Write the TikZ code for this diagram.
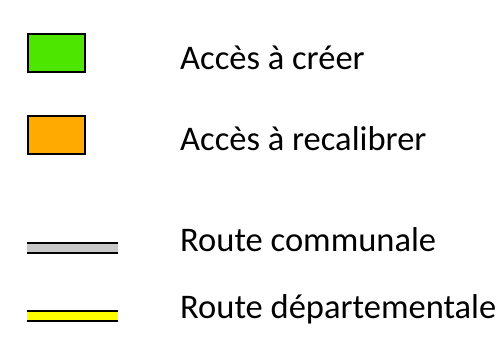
\documentclass[tikz,border=0pt]{standalone}
\usepackage{fontspec}
\setmainfont{Carlito}
\definecolor{newgreen}{RGB}{77,230,0}
\definecolor{recalorange}{RGB}{255,170,0}
\definecolor{roadgray}{RGB}{200,200,200}
\definecolor{roadyellow}{RGB}{255,255,0}
\tikzset{
  legbox/.style={draw=black, line width=2.3pt},
  legtext/.style={anchor=base west, inner sep=0pt, font=\fontsize{34.5}{40}\selectfont},
  roadouter/.style={line width=12.6pt, draw=black},
}
\begin{document}
\begin{tikzpicture}[x=1pt,y=-1pt]
\useasboundingbox (0,0) rectangle (504,343);
% boxes
\path[legbox, fill=newgreen] (28.2,34.2) rectangle (84.8,71.8);
\path[legbox, fill=recalorange] (28.2,116.2) rectangle (84.8,153.8);
\node[legtext] (t1) at (180,69) {Accès à créer};
\node[legtext] (t2) at (180,150.7) {Accès à recalibrer};
% roads
\coordinate (g1) at (27,248);
\coordinate (g2) at (118,248);
\draw[roadouter] (g1) -- (g2);
\draw[line width=7.3pt, roadgray] (g1) -- (g2);
\coordinate (y1) at (27,315.8);
\coordinate (y2) at (118,315.8);
\draw[roadouter] (y1) -- (y2);
\draw[line width=7.7pt, roadyellow] (y1) -- (y2);
\node[legtext] (t3) at (180,251.7) {Route communale};
\node[legtext] (t4) at (180,318.3) {Route départementale};
\end{tikzpicture}
\end{document}
